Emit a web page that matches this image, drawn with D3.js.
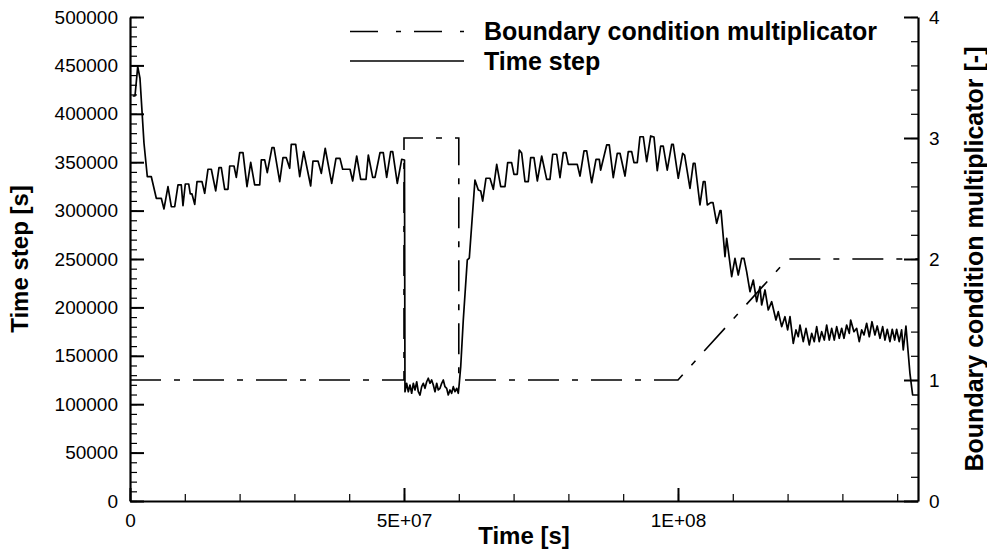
<!DOCTYPE html>
<html>
<head>
<meta charset="utf-8">
<script src="https://cdn.jsdelivr.net/npm/d3@7"></script>
<style>
  body { margin: 0; background: #fff; }
  svg { display: block; font-family: "Liberation Sans", Arial, Helvetica, sans-serif; }
</style>
</head>
<body>
<svg id="chart" width="987" height="551"></svg>
<script>
// time in 1e6 s, time step in 1e3 s
const stepTime = [0.49, 0.91, 1.41, 1.82, 2.55, 3.16, 3.89, 4.80, 5.71, 6.20, 6.93, 7.54, 8.16, 8.76, 9.36, 9.67, 10.09, 10.71, 11.00, 11.31,
  11.81, 12.23, 13.14, 13.63, 14.23, 14.84, 15.64, 16.24, 16.66, 17.28, 17.88, 18.19, 18.98, 19.40, 20.02, 20.62, 21.35, 22.03, 22.75, 23.67,
  23.96, 24.58, 25.05, 25.91, 26.28, 27.32, 27.92, 28.52, 29.14, 29.43, 30.24, 30.97, 31.70, 32.97, 33.39, 34.31, 34.91, 35.62, 36.81, 37.59,
  38.32, 38.81, 40.15, 40.64, 41.37, 42.10, 43.07, 43.49, 44.29, 44.71, 45.62, 46.22, 46.84, 47.57, 47.94, 48.78, 49.58, 50.09,
  50.18, 50.49, 50.79, 51.09, 51.40, 51.70, 52.01, 52.32, 52.61, 52.92, 53.23, 53.52, 53.83, 54.14, 54.43, 54.74, 55.05, 55.35, 55.66, 55.97,
  56.26, 56.57, 56.88, 57.17, 57.48, 57.79, 58.08, 58.39, 58.70, 59.00, 59.31, 59.62, 59.91, 60.09, 60.35,
  60.82, 61.55, 61.92, 62.95, 63.56, 64.00, 64.36, 64.96, 65.69, 66.30, 66.92, 67.65, 68.43, 68.92, 69.64, 70.07, 70.67, 71.04, 71.47, 72.08,
  72.68, 73.12, 73.72, 74.33, 75.13, 76.04, 76.64, 77.14, 77.87, 78.47, 79.07, 79.56, 79.98, 81.62, 82.12, 82.85, 83.34, 84.25, 85.04, 85.64,
  85.89, 86.99, 87.46, 88.19, 88.92, 89.42, 90.33, 90.93, 91.55, 91.97, 92.57, 93.06, 93.67, 94.29, 95.02, 95.62, 96.22, 96.84, 97.31, 98.04,
  98.85, 99.14, 100.05, 100.85, 101.21, 102.19, 102.79, 103.10, 104.01, 104.62, 104.93, 105.35, 105.97, 106.39, 107.06, 107.66, 107.85, 108.58, 108.89, 109.80,
  110.40, 111.00, 111.62, 112.04, 112.53, 113.14, 113.74, 114.36, 114.96, 115.27, 115.88, 116.48, 117.10, 117.88, 118.30, 118.92, 119.52, 120.01, 120.44, 121.04,
  121.53, 121.95, 122.26, 122.86, 123.36, 123.96, 124.40, 124.87, 125.31, 125.78, 126.22, 126.70, 127.13, 127.61, 128.05, 128.52, 128.96, 129.43, 129.87, 130.29,
  130.78, 131.26, 131.51, 132.11, 132.61, 133.08, 133.52, 133.94, 134.43, 134.91, 135.40, 135.94, 136.36, 136.86, 137.35, 137.77, 138.19, 138.68, 139.10, 139.54,
  139.90, 140.37, 140.81, 141.11, 141.60, 142.02, 142.33, 142.82, 143.79]
const stepValue = [418.4, 418.4, 448.7, 436.7, 369.8, 335.0, 335.0, 312.7, 312.7, 301.7, 324.7, 304.0, 304.0, 326.5, 326.5, 305.1, 327.5, 327.5, 317.2, 317.2,
  306.5, 329.9, 329.9, 317.9, 342.7, 342.7, 320.3, 344.3, 344.3, 322.0, 322.0, 346.1, 346.1, 334.4, 359.8, 359.8, 324.7, 349.9, 326.5, 326.5,
  352.3, 352.3, 339.2, 365.0, 365.0, 329.9, 354.7, 354.7, 343.7, 368.5, 368.5, 335.0, 360.9, 325.4, 351.2, 351.2, 338.5, 364.4, 328.2, 354.0,
  354.0, 342.7, 342.7, 330.6, 356.4, 332.3, 332.3, 357.4, 334.4, 334.4, 359.8, 359.8, 334.4, 360.9, 360.9, 328.2, 353.0, 352.3,
  112.9, 121.6, 112.9, 119.8, 111.3, 121.6, 114.7, 123.2, 112.9, 109.5, 118.1, 121.6, 116.4, 123.2, 126.8, 121.6, 125.0, 119.8, 112.9, 121.6,
  114.7, 116.4, 121.6, 125.0, 118.1, 116.4, 109.5, 114.7, 111.3, 118.1, 112.9, 116.4, 111.3, 121.6, 138.7,
  187.0, 249.0, 251.0, 331.6, 321.3, 320.3, 309.9, 333.4, 333.4, 322.0, 347.8, 324.7, 324.7, 349.5, 349.5, 337.5, 337.5, 362.6, 359.5, 329.9,
  329.9, 354.7, 354.7, 330.6, 356.4, 332.3, 332.3, 358.2, 358.2, 334.0, 359.8, 359.8, 347.8, 347.8, 335.7, 361.6, 361.6, 328.8, 353.0, 353.0,
  341.9, 367.8, 367.8, 334.0, 359.2, 359.2, 335.7, 360.9, 360.9, 349.5, 349.5, 376.3, 376.3, 350.5, 377.1, 376.0, 341.2, 366.7, 366.7, 341.9,
  368.5, 368.5, 333.4, 359.2, 357.4, 323.0, 348.9, 348.9, 305.8, 329.9, 329.9, 305.8, 308.2, 308.2, 286.9, 299.9, 299.9, 252.4, 271.4, 231.7,
  250.7, 233.5, 250.7, 250.7, 236.9, 216.2, 228.3, 205.9, 221.4, 202.5, 218.0, 197.3, 205.9, 187.0, 195.6, 180.1, 190.4, 176.7, 190.4, 162.9,
  176.7, 169.7, 181.8, 164.6, 178.4, 161.2, 173.2, 164.6, 180.1, 164.6, 174.9, 166.3, 181.8, 166.3, 178.4, 166.3, 180.1, 168.1, 178.4, 168.1,
  181.8, 173.2, 187.0, 174.9, 178.4, 164.6, 176.7, 171.5, 183.6, 169.7, 185.2, 171.5, 180.8, 168.1, 180.1, 166.3, 177.4, 164.6, 177.4, 166.3,
  177.4, 164.6, 176.7, 156.0, 180.8, 152.6, 131.9, 109.5, 109.5]

// boundary condition multiplicator, time in 1e6 s
const bcTime = [0, 50, 50, 60, 60, 100, 120, 143.8]
const bcValue = [1, 1, 3, 3, 1, 1, 2, 2]

const xMajor = [0, 5e7, 1e8]
const xMajorLabels = ["0", "5E+07", "1E+08"]
const legendLabels = ["Boundary condition multiplicator", "Time step"]

const svg = d3.select("#chart")
const mLeft = 130, mRight = 918, mTop = 17, mBottom = 501

const x = d3.scaleLinear().domain([0, 1.438e8]).range([mLeft, mRight])
const y = d3.scaleLinear().domain([0, 500000]).range([mBottom, mTop])
const y2 = d3.scaleLinear().domain([0, 4]).range([mBottom, mTop])

const step = stepTime.map((t, i) => [t * 1e6, stepValue[i] * 1e3])
const bc = bcTime.map((t, i) => [t * 1e6, bcValue[i]])

// data lines
svg.append("path").datum(bc)
  .attr("d", d3.line().x((d) => x(d[0])).y((d) => y2(d[1])))
  .attr("fill", "none").attr("stroke", "#000").attr("stroke-width", 1.6)
  .attr("stroke-dasharray", "31,13,6,13")

svg.append("path").datum(step)
  .attr("d", d3.line().x((d) => x(d[0])).y((d) => y(d[1])))
  .attr("fill", "none").attr("stroke", "#000").attr("stroke-width", 1.7)
  .attr("stroke-linejoin", "round")

// axes
function styleAxis(g, fs) {
  g.selectAll(".domain").attr("stroke-width", 2.2)
  g.selectAll(".tick line").attr("stroke-width", 2)
  g.selectAll("text").attr("font-size", fs).attr("fill", "#000")
    .attr("font-family", "'Liberation Sans', Arial, sans-serif")
}
function minor(g) {
  g.selectAll(".domain").remove()
  g.selectAll(".tick line").attr("stroke-width", 1.2)
}

svg.append("g").attr("transform", `translate(${mLeft},0)`)
  .call(d3.axisLeft(y).tickValues(d3.range(0, 500001, 10000)).tickSize(-7).tickFormat(""))
  .call(minor)
svg.append("g").attr("transform", `translate(${mLeft},0)`)
  .call(d3.axisLeft(y).tickValues(d3.range(0, 500001, 50000)).tickSize(-14).tickSizeOuter(0).tickPadding(12).tickFormat(d3.format("d")))
  .call((g) => styleAxis(g, 19))

svg.append("g").attr("transform", `translate(${mRight},0)`)
  .call(d3.axisRight(y2).tickValues(d3.range(0, 4.01, 0.2)).tickSize(-7).tickFormat(""))
  .call(minor)
svg.append("g").attr("transform", `translate(${mRight},0)`)
  .call(d3.axisRight(y2).tickValues([0, 1, 2, 3, 4]).tickSize(-14).tickSizeOuter(0).tickPadding(11).tickFormat(d3.format("d")))
  .call((g) => styleAxis(g, 19))

svg.append("g").attr("transform", `translate(0,${mBottom})`)
  .call(d3.axisBottom(x).tickValues(d3.range(0, 1.43e8, 1e7)).tickSize(-7).tickFormat(""))
  .call(minor)
svg.append("g").attr("transform", `translate(0,${mBottom})`)
  .call(d3.axisBottom(x).tickValues(xMajor).tickSize(-13).tickSizeOuter(0).tickPadding(13)
    .tickFormat((d, i) => xMajorLabels[i]))
  .call((g) => styleAxis(g, 19))

// axis titles
svg.append("text").attr("x", (mLeft + mRight) / 2).attr("y", 544).attr("text-anchor", "middle")
  .attr("font-size", 24).attr("font-weight", "bold").text("Time [s]")
svg.append("text").attr("transform", `translate(28,${(mTop + mBottom) / 2}) rotate(-90)`).attr("text-anchor", "middle")
  .attr("font-size", 24).attr("font-weight", "bold").text("Time step [s]")
svg.append("text").attr("transform", `translate(983,${(mTop + mBottom) / 2}) rotate(-90)`).attr("text-anchor", "middle")
  .attr("font-size", 25).attr("font-weight", "bold").text("Boundary condition multiplicator [-]")

// legend
const legend = svg.append("g")
const legendY = [31.5, 61]
legend.append("line").attr("x1", 350).attr("x2", 464).attr("y1", legendY[0]).attr("y2", legendY[0])
  .attr("stroke", "#000").attr("stroke-width", 1.6).attr("stroke-dasharray", "28,18,5,13")
legend.append("line").attr("x1", 350).attr("x2", 464).attr("y1", legendY[1]).attr("y2", legendY[1])
  .attr("stroke", "#000").attr("stroke-width", 1.6)
legend.selectAll("text.lab").data(legendLabels).enter().append("text").attr("class", "lab")
  .attr("x", 484).attr("y", (d, i) => legendY[i] + 8.5)
  .attr("font-size", 25).attr("font-weight", "bold").text((d) => d)
</script>
</body>
</html>
